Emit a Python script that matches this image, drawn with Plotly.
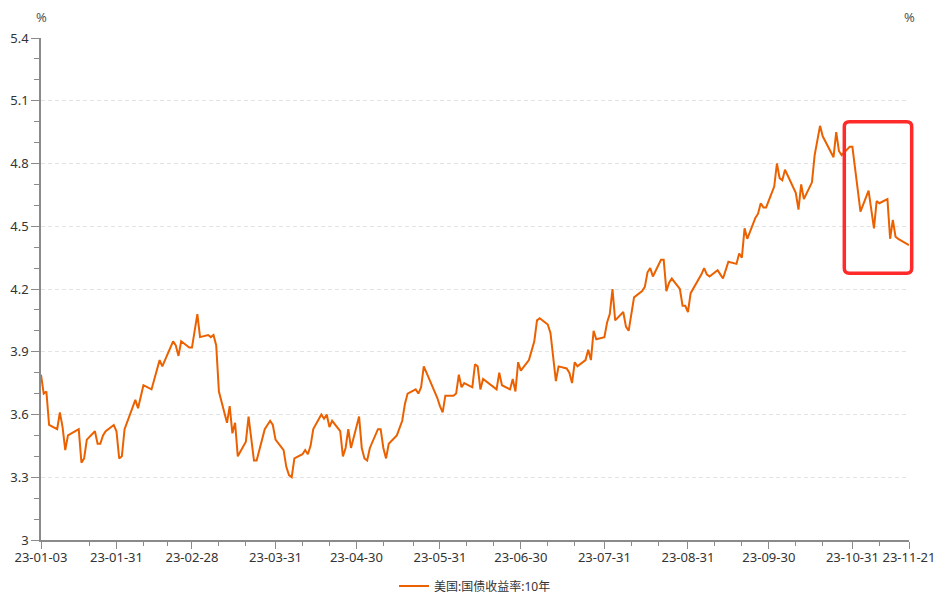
import plotly.graph_objects as go
import pandas as pd

# ---- data: US 10Y Treasury yield (%) 2023, trading days ----
jan_days = [3, 4, 5, 6, 9, 10, 11, 12, 13, 17, 18, 19, 20, 23, 24, 25, 26, 27, 30, 31]
jan_vals = [3.79, 3.70, 3.71, 3.55, 3.53, 3.61, 3.54, 3.43, 3.50, 3.53, 3.37, 3.39, 3.48, 3.52, 3.46, 3.46, 3.50, 3.52, 3.55, 3.52]
feb_days = [1, 2, 3, 6, 7, 8, 9, 10, 13, 14, 15, 16, 17, 21, 22, 23, 24, 27, 28]
feb_vals = [3.39, 3.40, 3.53, 3.63, 3.67, 3.63, 3.68, 3.74, 3.72, 3.77, 3.81, 3.86, 3.83, 3.95, 3.93, 3.88, 3.95, 3.92, 3.92]
mar_days = [1, 2, 3, 6, 7, 8, 9, 10, 13, 14, 15, 16, 17, 20, 21, 22, 23, 24, 27, 28, 29, 30, 31]
mar_vals = [4.01, 4.08, 3.97, 3.98, 3.97, 3.98, 3.93, 3.71, 3.56, 3.64, 3.51, 3.56, 3.40, 3.47, 3.59, 3.47, 3.38, 3.38, 3.53, 3.55, 3.57, 3.55, 3.48]
apr_days = [3, 4, 5, 6, 7, 10, 11, 12, 13, 14, 17, 18, 19, 20, 21, 24, 25, 26, 27, 28]
apr_vals = [3.43, 3.35, 3.31, 3.30, 3.39, 3.41, 3.43, 3.41, 3.45, 3.53, 3.60, 3.58, 3.60, 3.54, 3.57, 3.52, 3.40, 3.44, 3.53, 3.44]
may_days = [1, 2, 3, 4, 5, 8, 9, 10, 11, 12, 15, 16, 17, 18, 19, 22, 23, 24, 25, 26, 30, 31]
may_vals = [3.59, 3.44, 3.39, 3.38, 3.44, 3.53, 3.53, 3.44, 3.39, 3.46, 3.50, 3.54, 3.57, 3.65, 3.70, 3.72, 3.70, 3.73, 3.83, 3.80, 3.68, 3.64]
jun_days = [1, 2, 5, 6, 7, 8, 9, 12, 13, 14, 15, 16, 20, 21, 22, 23, 26, 27, 28, 29, 30]
jun_vals = [3.61, 3.69, 3.69, 3.70, 3.79, 3.73, 3.75, 3.73, 3.84, 3.83, 3.72, 3.77, 3.73, 3.72, 3.80, 3.74, 3.72, 3.77, 3.71, 3.85, 3.81]
jul_days = [3, 5, 6, 7, 10, 11, 12, 13, 14, 17, 18, 19, 20, 21, 24, 25, 26, 27, 28, 31]
jul_vals = [3.86, 3.95, 4.05, 4.06, 4.03, 3.99, 3.86, 3.76, 3.83, 3.82, 3.80, 3.75, 3.85, 3.83, 3.86, 3.91, 3.86, 4.00, 3.96, 3.97]
aug_days = [1, 2, 3, 4, 7, 8, 9, 10, 11, 14, 15, 16, 17, 18, 21, 22, 23, 24, 25, 28, 29, 30, 31]
aug_vals = [4.04, 4.08, 4.20, 4.05, 4.09, 4.02, 4.00, 4.09, 4.16, 4.19, 4.21, 4.28, 4.30, 4.26, 4.34, 4.34, 4.19, 4.23, 4.25, 4.20, 4.12, 4.12, 4.09]
sep_days = [1, 5, 6, 7, 8, 11, 12, 13, 14, 15, 18, 19, 20, 21, 22, 25, 26, 27, 28, 29]
sep_vals = [4.18, 4.27, 4.30, 4.27, 4.26, 4.29, 4.27, 4.25, 4.29, 4.33, 4.32, 4.37, 4.35, 4.49, 4.44, 4.54, 4.56, 4.61, 4.59, 4.59]
oct_days = [2, 3, 4, 5, 6, 10, 11, 12, 13, 16, 17, 18, 19, 20, 23, 24, 25, 26, 27, 30, 31]
oct_vals = [4.69, 4.80, 4.73, 4.72, 4.77, 4.66, 4.58, 4.70, 4.63, 4.71, 4.84, 4.92, 4.98, 4.93, 4.86, 4.83, 4.95, 4.86, 4.84, 4.88, 4.88]
nov_days = [1, 2, 3, 6, 7, 8, 9, 10, 13, 14, 15, 16, 17, 20, 21]
nov_vals = [4.78, 4.67, 4.57, 4.67, 4.59, 4.49, 4.62, 4.61, 4.63, 4.44, 4.53, 4.45, 4.44, 4.42, 4.41]

series_name = "美国:国债收益率:10年"
x_tick_dates = ["2023-01-03", "2023-01-31", "2023-02-28", "2023-03-31", "2023-04-30", "2023-05-31",
                "2023-06-30", "2023-07-31", "2023-08-31", "2023-09-30", "2023-10-31", "2023-11-21"]
x_minor_dates = ["2023-01-21", "2023-02-10", "2023-02-19", "2023-03-10", "2023-03-20", "2023-04-10",
                 "2023-04-20", "2023-05-10", "2023-05-21", "2023-06-10", "2023-06-20", "2023-07-10",
                 "2023-07-20", "2023-08-10", "2023-08-20", "2023-09-10", "2023-09-20", "2023-10-10",
                 "2023-10-20", "2023-11-10"]
y_ticks = [3, 3.3, 3.6, 3.9, 4.2, 4.5, 4.8, 5.1, 5.4]
highlight_x = ["2023-10-28", "2023-11-22"]
highlight_y = [4.275, 5.0]

months = [(1, jan_days, jan_vals), (2, feb_days, feb_vals), (3, mar_days, mar_vals),
          (4, apr_days, apr_vals), (5, may_days, may_vals), (6, jun_days, jun_vals),
          (7, jul_days, jul_vals), (8, aug_days, aug_vals), (9, sep_days, sep_vals),
          (10, oct_days, oct_vals), (11, nov_days, nov_vals)]
dates, values = [], []
for m, ds, vs in months:
    for d, v in zip(ds, vs):
        dates.append(f"2023-{m:02d}-{d:02d}")
        values.append(v)

FONT = "Noto Sans, Noto Sans CJK SC, sans-serif"
TXT = "#333333"
AX = "#8a8a8a"

fig = go.Figure()
fig.add_trace(go.Scatter(x=dates, y=values, mode="lines", name=series_name,
                         line=dict(color="#EB6100", width=2)))

yax_common = dict(range=[3, 5.4], tickmode="array", tickvals=y_ticks,
                  ticks="outside", ticklen=8, tickcolor=AX, tickwidth=1,
                  showline=True, linecolor=AX, linewidth=1.5,
                  tickfont=dict(family=FONT, size=13, color=TXT),
                  minor=dict(dtick=0.1, tick0=3, ticks="outside", ticklen=5, tickcolor=AX, showgrid=False),
                  zeroline=False, fixedrange=True, automargin=False)

fig.update_layout(
    width=950, height=604,
    margin=dict(l=41, r=41, t=38, b=64),
    paper_bgcolor="white", plot_bgcolor="white",
    font=dict(family=FONT, color=TXT),
    xaxis=dict(type="date", range=["2023-01-03", "2023-11-21"],
               tickmode="array", tickvals=x_tick_dates, tickformat="%y-%m-%d",
               ticks="outside", ticklen=7, tickcolor=AX, ticklabelstandoff=-2,
               showline=True, linecolor=AX, linewidth=1.5, showgrid=False, zeroline=False,
               tickfont=dict(family=FONT, size=13, color=TXT), automargin=False,
               fixedrange=True,
               minor=dict(tickmode="array", tickvals=x_minor_dates, ticks="outside",
                          ticklen=4, tickcolor=AX, showgrid=False)),
    yaxis=dict(side="left", showgrid=True, gridcolor="#e3e3e3", griddash="4px,3px", gridwidth=1,
               **yax_common),
    yaxis2=dict(side="right", overlaying="y", showgrid=False, **yax_common),
    showlegend=True,
    legend=dict(orientation="h", xref="paper", x=0.5, xanchor="center",
                yref="container", y=(604 - 586) / 604, yanchor="middle",
                font=dict(family=FONT, size=12, color=TXT), bgcolor="rgba(0,0,0,0)"),
)

fig.add_annotation(text="%", xref="paper", yref="paper", x=0, y=1.042, showarrow=False,
                   font=dict(family=FONT, size=13, color="#555"), xanchor="center", yanchor="middle")
fig.add_annotation(text="%", xref="paper", yref="paper", x=1, y=1.042, showarrow=False,
                   font=dict(family=FONT, size=13, color="#555"), xanchor="center", yanchor="middle")

# rounded red highlight box (positions derived from the axis ranges)
t0 = pd.Timestamp("2023-01-03"); t1 = pd.Timestamp("2023-11-21")
span = (t1 - t0).total_seconds()
px0 = (pd.Timestamp(highlight_x[0]) - t0).total_seconds() / span
px1 = (pd.Timestamp(highlight_x[1]) - t0).total_seconds() / span
py0 = (highlight_y[0] - 3) / 2.4
py1 = (highlight_y[1] - 3) / 2.4
rx, ry = 5 / 868, 5 / 502
path = (f"M {px0+rx} {py1} L {px1-rx} {py1} Q {px1} {py1} {px1} {py1-ry} "
        f"L {px1} {py0+ry} Q {px1} {py0} {px1-rx} {py0} "
        f"L {px0+rx} {py0} Q {px0} {py0} {px0} {py0+ry} "
        f"L {px0} {py1-ry} Q {px0} {py1} {px0+rx} {py1} Z")
fig.add_shape(type="path", path=path, xref="paper", yref="paper",
              line=dict(color="#FF2A2A", width=3.5), layer="above")

fig.write_html("out.html", config={"displayModeBar": False},
               post_script="document.body.style.margin='0';document.body.style.padding='0';")
